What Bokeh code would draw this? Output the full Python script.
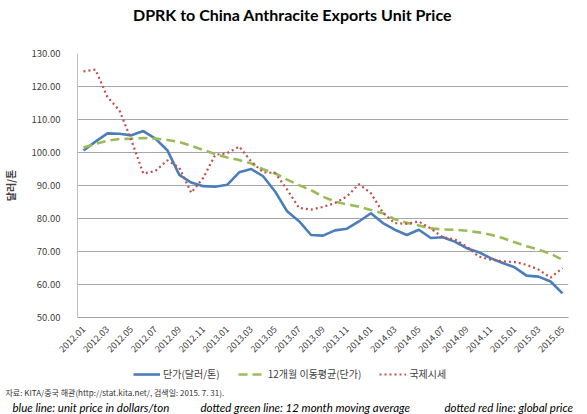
import math
from bokeh.plotting import figure
from bokeh.layouts import column
from bokeh.models import (Range1d, NumeralTickFormatter, FixedTicker,
                          Legend, LegendItem, Label)
from bokeh.embed import file_html
from bokeh.resources import INLINE

months = ["2012.01", "2012.02", "2012.03", "2012.04", "2012.05", "2012.06", "2012.07",
          "2012.08", "2012.09", "2012.10", "2012.11", "2012.12", "2013.01", "2013.02",
          "2013.03", "2013.04", "2013.05", "2013.06", "2013.07", "2013.08", "2013.09",
          "2013.10", "2013.11", "2013.12", "2014.01", "2014.02", "2014.03", "2014.04",
          "2014.05", "2014.06", "2014.07", "2014.08", "2014.09", "2014.10", "2014.11",
          "2014.12", "2015.01", "2015.02", "2015.03", "2015.04", "2015.05"]

unit_price = [100.6, 103.3, 105.8, 105.7, 105.2, 106.5, 104.2, 100.7, 93.2, 90.9,
              89.8, 89.6, 90.2, 94.0, 95.0, 92.8, 88.2, 82.2, 79.2, 75.0,
              74.8, 76.4, 76.9, 79.1, 81.6, 78.6, 76.6, 75.0, 76.6, 74.1,
              74.3, 73.0, 71.0, 69.8, 68.0, 66.5, 65.2, 62.7, 62.4, 60.9, 57.3]

moving_avg = [101.5, 102.6, 103.6, 104.1, 104.2, 104.4, 104.2, 103.8, 103.2, 102.0,
              100.8, 99.5, 98.5, 97.7, 96.7, 94.9, 93.7, 91.8, 90.1, 88.6,
              86.6, 85.1, 84.3, 83.6, 82.6, 81.6, 79.8, 78.7, 77.9, 77.0,
              76.7, 76.6, 76.3, 75.8, 75.1, 74.1, 72.8, 71.6, 70.6, 69.3, 67.5]

global_price = [124.6, 125.1, 116.8, 112.8, 103.7, 93.6, 94.4, 97.6, 95.4, 87.8,
                92.3, 99.3, 99.8, 101.8, 97.3, 94.0, 93.8, 88.8, 83.2, 82.7,
                83.5, 84.7, 86.7, 90.4, 87.7, 81.8, 78.6, 78.4, 79.1, 77.0,
                74.3, 73.7, 71.5, 68.5, 67.5, 67.0, 66.8, 66.0, 64.5, 62.1, 65.0]

y_ticks = [50, 60, 70, 80, 90, 100, 110, 120, 130]
x_tick_labels = ["2012.01", "2012.03", "2012.05", "2012.07", "2012.09", "2012.11",
                 "2013.01", "2013.03", "2013.05", "2013.07", "2013.09", "2013.11",
                 "2014.01", "2014.03", "2014.05", "2014.07", "2014.09", "2014.11",
                 "2015.01", "2015.03", "2015.05"]

series_names = ["단가(달러/톤)", "12개월 이동평균(단가)", "국제시세"]

title_text = "DPRK to China Anthracite Exports Unit Price"
source_text = "자료: KITA/중국 해관(http://stat.kita.net/, 검색일: 2015. 7. 31)."
captions = ["blue line: unit price in dollars/ton",
            "dotted green line: 12 month moving average",
            "dotted red line: global price"]

KR = "Noto Sans CJK KR"
TXT = "#404040"
COLORS = ["#4A7EBB", "#9BBB59", "#C0504D"]
WIDTHS = [2.6, 2.6, 2.2]
DASHES = ["solid", "9 5", "2 3"]

xs = list(range(len(months)))
tick_pos = [months.index(m) for m in x_tick_labels]
series = [unit_price, moving_avg, global_price]


def strip(height):
    f = figure(width=587, height=height,
               x_range=Range1d(0, 587), y_range=Range1d(height, 0),
               output_backend="svg", toolbar_location=None,
               x_axis_location=None, y_axis_location=None,
               min_border_left=0, min_border_right=0, min_border_top=0, min_border_bottom=0)
    f.outline_line_color = None
    f.xgrid.grid_line_color = None
    f.ygrid.grid_line_color = None
    f.background_fill_color = "white"
    f.border_fill_color = "white"
    return f


# ---------------- title strip ----------------
p0 = strip(38)
p0.add_layout(Label(x=292, y=14, text=title_text, text_align="center",
                    text_baseline="middle", text_font="Lato", text_font_size="16px",
                    text_font_style="bold", text_color="#000000"))

# ---------------- main chart ----------------
p = figure(width=587, height=324,
           x_range=Range1d(-0.5, len(months) - 0.5),
           y_range=Range1d(y_ticks[0], y_ticks[-1]),
           output_backend="svg", toolbar_location=None,
           min_border_left=77, min_border_right=19,
           min_border_top=15, min_border_bottom=45)

p.outline_line_color = None
p.background_fill_color = "white"
p.border_fill_color = "white"

p.xgrid.grid_line_color = None
p.ygrid.grid_line_color = "#A6A6A6"
p.ygrid.grid_line_width = 1

p.yaxis.ticker = FixedTicker(ticks=y_ticks)
p.yaxis.formatter = NumeralTickFormatter(format="0.00")
p.yaxis.axis_line_color = "#BFBFBF"
p.yaxis.major_tick_line_color = None
p.yaxis.minor_tick_line_color = None
p.yaxis.major_label_text_font = KR
p.yaxis.major_label_text_font_size = "9.5px"
p.yaxis.major_label_text_color = TXT
p.yaxis.major_label_standoff = 11
p.yaxis.axis_label = "달러/톤"
p.yaxis.axis_label_text_font = KR
p.yaxis.axis_label_text_font_size = "10px"
p.yaxis.axis_label_text_font_style = "bold"
p.yaxis.axis_label_text_color = TXT
p.yaxis.axis_label_standoff = 10

p.xaxis.ticker = FixedTicker(ticks=tick_pos)
p.xaxis.major_label_overrides = {i: m for i, m in zip(tick_pos, x_tick_labels)}
p.xaxis.axis_line_color = "#A6A6A6"
p.xaxis.major_tick_line_color = None
p.xaxis.minor_tick_line_color = None
p.xaxis.major_label_orientation = math.pi / 4
p.xaxis.major_label_text_font = KR
p.xaxis.major_label_text_font_size = "9px"
p.xaxis.major_label_text_color = TXT
p.xaxis.major_label_standoff = 4

for ys, c, w, d in zip(series, COLORS, WIDTHS, DASHES):
    p.line(xs, ys, line_color=c, line_width=w, line_dash=d)

# ---------------- legend + notes strip ----------------
p2 = strip(52)
# legend proxies: same series, drawn outside this strip's visible range (only their legend glyphs show)
proxies = [p2.line(xs, ys, line_color=c, line_width=w, line_dash=d)
           for ys, c, w, d in zip(series, COLORS, WIDTHS, DASHES)]

legend = Legend(items=[LegendItem(label=n, renderers=[r]) for n, r in zip(series_names, proxies)],
                orientation="horizontal", location=(133, 33),
                label_text_font=KR, label_text_font_size="10px", label_text_color=TXT,
                glyph_width=27, glyph_height=14, label_standoff=3, spacing=18,
                label_height=14,
                border_line_color=None, background_fill_alpha=0, padding=2, margin=0)
p2.add_layout(legend, "center")

p2.add_layout(Label(x=5, y=30, text=source_text,
                    text_font=KR, text_font_size="8px", text_color="#333333",
                    text_baseline="middle"))
cap_x = [12, 200, 444]
for cx, ct in zip(cap_x, captions):
    p2.add_layout(Label(x=cx, y=45, text=ct,
                        text_font="Lato", text_font_size="11.5px", text_font_style="italic",
                        text_color="#000000", text_baseline="middle"))

for f in (p0, p, p2):
    if "frame_align" in f.properties():
        f.frame_align = False

layout = column(p0, p, p2, spacing=0)
open("out.html", "w").write(file_html(layout, INLINE))
